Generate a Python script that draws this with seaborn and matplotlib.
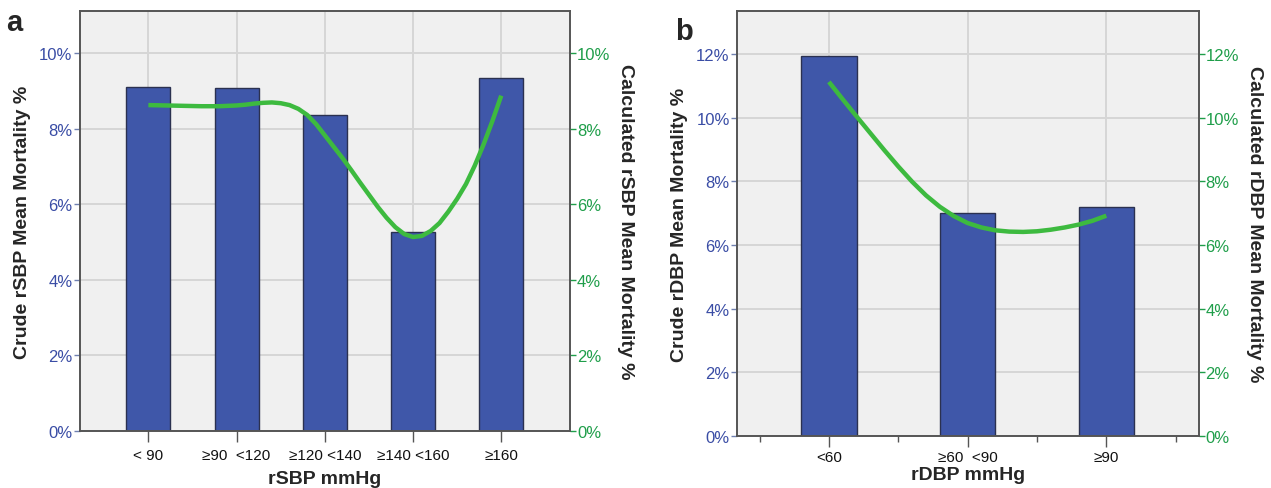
import matplotlib
matplotlib.use("Agg")
import matplotlib.pyplot as plt
from matplotlib.ticker import FuncFormatter, MultipleLocator
import seaborn as sns

# panel a: systolic
sbp_labels = ["< 90", "≥90  <120", "≥120 <140", "≥140 <160", "≥160"]
sbp_crude = [9.11, 9.08, 8.36, 5.26, 9.34]
# calculated mortality curve (x in category units)
sbp_curve_x = [0.0, 0.2, 0.4, 0.6, 0.8, 1.0, 1.1, 1.2, 1.3, 1.4, 1.5, 1.6, 1.7,
               1.8, 1.9, 2.0, 2.1, 2.2, 2.3, 2.4, 2.5, 2.6, 2.7, 2.8, 2.9, 3.0,
               3.1, 3.2, 3.3, 3.4, 3.5, 3.6, 3.7, 3.8, 3.9, 4.0]
sbp_curve_y = [8.62, 8.61, 8.60, 8.59, 8.59, 8.61, 8.63, 8.66, 8.68, 8.69, 8.67,
               8.62, 8.52, 8.36, 8.12, 7.82, 7.52, 7.22, 6.90, 6.57, 6.25, 5.93,
               5.64, 5.39, 5.21, 5.13, 5.16, 5.29, 5.50, 5.80, 6.14, 6.53, 7.02,
               7.58, 8.20, 8.87]

# panel b: diastolic
dbp_labels = ["<60", "≥60  <90", "≥90"]
dbp_crude = [11.95, 7.02, 7.20]
dbp_curve_x = [0.0, 0.1, 0.2, 0.3, 0.4, 0.5, 0.6, 0.7, 0.8, 0.9, 1.0, 1.1, 1.2,
               1.3, 1.4, 1.5, 1.6, 1.7, 1.8, 1.9, 2.0]
dbp_curve_y = [11.13, 10.58, 10.04, 9.51, 8.98, 8.47, 7.99, 7.56, 7.20, 6.91,
               6.69, 6.55, 6.46, 6.42, 6.41, 6.43, 6.48, 6.55, 6.64, 6.76, 6.92]

BAR = "#3f57a9"
LINE = "#3dba3f"
BLUE_TXT = "#3a4da5"
GREEN_TXT = "#1f9e4a"

sns.set_theme(style="whitegrid", rc={"axes.facecolor": "#f0f0f0",
                                     "grid.color": "#d6d6d6",
                                     "grid.linewidth": 1.4,
                                     "axes.edgecolor": "#555555",
                                     "axes.linewidth": 1.2})
plt.rcParams["font.family"] = ["Liberation Sans", "DejaVu Sans"]

fig = plt.figure(figsize=(12.71, 4.89), dpi=100)
pct = FuncFormatter(lambda v, _: f"{v:.0f}%")


def draw_panel(rect, labels, crude, cx, cy, ymax, xpad, bar_w, name, letter,
               letter_xy, minor, xlabelpad, xtickpad):
    ax = fig.add_axes(rect)
    sns.barplot(x=labels, y=crude, ax=ax, color=BAR, saturation=1, width=bar_w,
                edgecolor="#2b3150", linewidth=1)
    ax.set_axisbelow(True)
    ax.set_xlim(-xpad, len(labels) - 1 + xpad)
    ax.set_ylim(0, ymax)
    ax.yaxis.set_major_locator(MultipleLocator(2))
    ax.yaxis.set_major_formatter(pct)
    ax.tick_params(axis="y", colors="#7080b0", labelcolor=BLUE_TXT, labelsize=12,
                   left=True, length=4, width=1, pad=1)
    ax.tick_params(axis="x", colors="#555555", labelcolor="#111111", labelsize=11,
                   bottom=True, length=8, width=1, pad=xtickpad)
    if minor:
        ax.set_xticks([i - 0.5 for i in range(len(labels) + 1)], minor=True)
        ax.tick_params(axis="x", which="minor", bottom=True, length=4, width=1,
                       colors="#555555")
    ax.set_xlabel(f"{name} mmHg", fontsize=14, fontweight="bold",
                  labelpad=xlabelpad)
    ax.set_ylabel(f"Crude {name} Mean Mortality %", fontsize=14, fontweight="bold",
                  labelpad=6)
    ax.grid(True, axis="both")

    ax2 = ax.twinx()
    sns.lineplot(x=cx, y=cy, ax=ax2, color=LINE, linewidth=3.2, sort=False,
                 solid_joinstyle="round", solid_capstyle="butt")
    ax2.set_ylim(0, ymax)
    ax2.yaxis.set_major_locator(MultipleLocator(2))
    ax2.yaxis.set_major_formatter(pct)
    ax2.grid(False)
    ax2.tick_params(axis="y", colors=GREEN_TXT, labelsize=12, right=True, length=4,
                    width=1, pad=1)
    ax2.set_ylabel(f"Calculated {name} Mean Mortality %", fontsize=14,
                   fontweight="bold", rotation=270, labelpad=17)
    fig.text(letter_xy[0], letter_xy[1], letter, fontsize=21, fontweight="bold",
             ha="left", va="center")


draw_panel([0.0626, 0.1166, 0.3859, 0.8582], sbp_labels, sbp_crude, sbp_curve_x,
           sbp_curve_y, 11.1, 0.78, 0.5, "rSBP", "a", (0.005, 0.952), False, 6, 4)
draw_panel([0.5796, 0.1070, 0.3634, 0.8678], dbp_labels, dbp_crude, dbp_curve_x,
           dbp_curve_y, 13.35, 0.665, 0.4, "rDBP", "b", (0.531, 0.935), True, 2, 2)

fig.savefig("out.png", dpi=100)
